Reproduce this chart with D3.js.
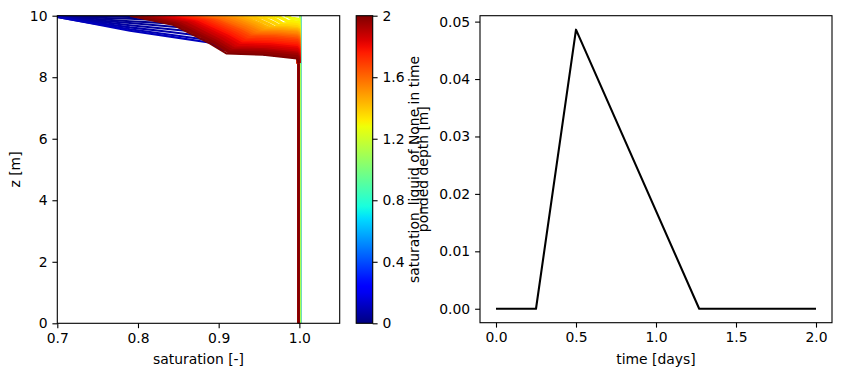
<!DOCTYPE html>
<html>
<head>
<meta charset="utf-8">
<script src="https://d3js.org/d3.v7.min.js"></script>
<style>
  body { margin: 0; background: white; }
  svg text { font-family: "DejaVu Sans", sans-serif; font-size: 13.9px; fill: black; }
</style>
</head>
<body>
<div id="chart"></div>
<script>
// saturation profiles [saturation, z] at each output time [days]
var blueTimes = [0.000, 0.015, 0.030, 0.045, 0.060, 0.075, 0.090, 0.105];
var blueProfiles = [
    [[0.69,10.00],[0.74,9.98],[0.79,9.96],[0.84,9.94],[0.89,9.92],[0.905,8.90],[0.955,8.76],[0.997,8.64],[1.0,8.55],[1.0,0]],
    [[0.69,10.01],[0.74,9.94],[0.79,9.90],[0.84,9.84],[0.89,9.80],[0.905,8.90],[0.955,8.76],[0.997,8.64],[1.0,8.55],[1.0,0]],
    [[0.69,10.00],[0.74,9.91],[0.79,9.82],[0.84,9.75],[0.89,9.67],[0.905,8.90],[0.955,8.76],[0.997,8.64],[1.0,8.55],[1.0,0]],
    [[0.69,10.02],[0.74,9.87],[0.79,9.76],[0.84,9.65],[0.89,9.55],[0.905,8.90],[0.955,8.76],[0.997,8.64],[1.0,8.55],[1.0,0]],
    [[0.69,10.00],[0.74,9.84],[0.79,9.69],[0.84,9.56],[0.89,9.43],[0.905,8.90],[0.955,8.76],[0.997,8.64],[1.0,8.55],[1.0,0]],
    [[0.69,10.02],[0.74,9.80],[0.79,9.62],[0.84,9.47],[0.89,9.31],[0.905,8.90],[0.955,8.76],[0.997,8.64],[1.0,8.55],[1.0,0]],
    [[0.69,10.00],[0.74,9.77],[0.79,9.56],[0.84,9.38],[0.89,9.20],[0.905,8.90],[0.955,8.76],[0.997,8.64],[1.0,8.55],[1.0,0]],
    [[0.69,10.01],[0.74,9.76],[0.79,9.51],[0.84,9.32],[0.89,9.12],[0.905,8.90],[0.955,8.76],[0.997,8.64],[1.0,8.55],[1.0,0]]
];
var wetTimes = [0.27, 0.40, 0.55, 0.70, 0.85, 1.00, 1.10];
var wetProfiles = [
    [[1.001,10],[1.001,0]], [[1.001,10],[1.001,0]], [[1.001,10],[1.001,0]],
    [[1.001,10],[1.001,0]], [[1.001,10],[1.001,0]], [[1.001,10],[1.001,0]],
    [[1.001,10],[1.001,0]]
];
var dryTimes = [1.28, 1.31, 1.34, 1.37, 1.41, 1.44, 1.47, 1.50, 1.53, 1.56, 1.59, 1.62,
                1.66, 1.69, 1.72, 1.75, 1.78, 1.81, 1.84, 1.87, 1.91, 1.94, 1.97, 2.00];
var dryProfiles = [
    [[0.982,10],[0.986,9.98],[0.989,9.93],[0.991,9.90],[0.994,9.90],[0.997,9.89],[0.999,9.88],[0.999,0]],
    [[0.968,10],[0.975,9.96],[0.982,9.87],[0.985,9.82],[0.991,9.81],[0.997,9.79],[0.999,9.78],[0.999,0]],
    [[0.955,10],[0.966,9.94],[0.975,9.81],[0.979,9.74],[0.989,9.73],[0.997,9.71],[0.999,9.69],[0.999,0]],
    [[0.942,10],[0.956,9.92],[0.968,9.77],[0.974,9.68],[0.986,9.67],[0.997,9.64],[0.999,9.61],[0.999,0]],
    [[0.928,10],[0.946,9.91],[0.961,9.73],[0.968,9.63],[0.983,9.62],[0.997,9.58],[0.999,9.55],[0.999,0]],
    [[0.915,10],[0.936,9.90],[0.954,9.70],[0.963,9.59],[0.980,9.58],[0.997,9.54],[0.999,9.51],[0.999,0]],
    [[0.907,10],[0.930,9.90],[0.950,9.68],[0.959,9.56],[0.979,9.54],[0.997,9.50],[0.999,9.46],[0.999,0]],
    [[0.899,10],[0.924,9.89],[0.946,9.65],[0.956,9.52],[0.977,9.50],[0.997,9.46],[0.999,9.42],[0.999,0]],
    [[0.892,10],[0.919,9.88],[0.942,9.62],[0.953,9.48],[0.976,9.47],[0.997,9.42],[0.999,9.37],[0.999,0]],
    [[0.884,10],[0.913,9.87],[0.938,9.60],[0.950,9.45],[0.974,9.43],[0.997,9.37],[0.999,9.33],[0.999,0]],
    [[0.876,10],[0.907,9.86],[0.934,9.57],[0.946,9.41],[0.972,9.39],[0.997,9.33],[0.999,9.28],[0.999,0]],
    [[0.868,10],[0.901,9.85],[0.930,9.54],[0.943,9.37],[0.971,9.35],[0.997,9.29],[0.999,9.24],[0.999,0]],
    [[0.862,10],[0.897,9.84],[0.927,9.51],[0.940,9.33],[0.970,9.31],[0.997,9.24],[0.999,9.18],[0.999,0]],
    [[0.856,10],[0.892,9.83],[0.923,9.48],[0.938,9.28],[0.968,9.26],[0.997,9.19],[0.999,9.12],[0.999,0]],
    [[0.850,10],[0.888,9.82],[0.920,9.44],[0.935,9.23],[0.967,9.21],[0.997,9.13],[0.999,9.06],[0.999,0]],
    [[0.844,10],[0.883,9.81],[0.917,9.40],[0.933,9.18],[0.966,9.15],[0.997,9.07],[0.999,9.00],[0.999,0]],
    [[0.838,10],[0.879,9.79],[0.914,9.36],[0.930,9.13],[0.965,9.10],[0.997,9.02],[0.999,8.94],[0.999,0]],
    [[0.832,10],[0.874,9.78],[0.911,9.33],[0.928,9.08],[0.964,9.05],[0.997,8.96],[0.999,8.88],[0.999,0]],
    [[0.825,10],[0.869,9.77],[0.907,9.29],[0.925,9.03],[0.962,8.99],[0.997,8.90],[0.999,8.81],[0.999,0]],
    [[0.818,10],[0.864,9.76],[0.904,9.25],[0.922,8.97],[0.961,8.94],[0.997,8.84],[0.999,8.75],[0.999,0]],
    [[0.811,10],[0.859,9.75],[0.900,9.21],[0.919,8.92],[0.959,8.89],[0.997,8.78],[0.999,8.69],[0.999,0]],
    [[0.804,10],[0.853,9.73],[0.896,9.18],[0.916,8.87],[0.958,8.84],[0.997,8.73],[0.999,8.63],[0.999,0]],
    [[0.797,10],[0.848,9.72],[0.893,9.14],[0.913,8.82],[0.956,8.78],[0.997,8.67],[0.999,8.56],[0.999,0]],
    [[0.790,10],[0.843,9.71],[0.889,9.10],[0.910,8.77],[0.955,8.73],[0.997,8.61],[0.999,8.50],[0.999,0]]
];

// ponded depth [m] vs time [days]
var pondTime = [0, 0.25, 0.5, 1.27, 2.0];
var pondDepth = [0, 0, 0.0486, 0, 0];

var satTicks = [0.7, 0.8, 0.9, 1.0];
var zTicks = [0, 2, 4, 6, 8, 10];
var cbarTicks = [0, 0.4, 0.8, 1.2, 1.6, 2];
var timeTicks = [0, 0.5, 1.0, 1.5, 2.0];
var depthTicks = [0, 0.01, 0.02, 0.03, 0.04, 0.05];

// matplotlib "jet"
var jetR = d3.scaleLinear().domain([0, 0.35, 0.66, 0.89, 1]).range([0, 0, 1, 1, 0.5]).clamp(true);
var jetG = d3.scaleLinear().domain([0, 0.125, 0.375, 0.64, 0.91, 1]).range([0, 0, 1, 1, 0, 0]).clamp(true);
var jetB = d3.scaleLinear().domain([0, 0.11, 0.34, 0.65, 1]).range([0.5, 1, 1, 0, 0]).clamp(true);
function jet(v) { return d3.rgb(jetR(v) * 255, jetG(v) * 255, jetB(v) * 255).toString(); }

var W = 842, H = 376;
var svg = d3.select("#chart").append("svg").attr("width", W).attr("height", H);
var defs = svg.append("defs");

var tick = 4.9, pad = 4.9, spine = 1.1, lw = 2.08;

// ---- left: profiles
var L = { left: 57.3, right: 339.7, top: 15.7, bottom: 323.3 };
var xs = d3.scaleLinear().domain([0.7, 1.05]).range([L.left, L.right]);
var zs = d3.scaleLinear().domain([0, 10]).range([L.bottom, L.top]);
var tnorm = d3.scaleLinear().domain([0, 2]).range([0, 1]);
var zSplit = 8.45; // below this every profile is the saturated column

function clip(id, y0, y1) {
    defs.append("clipPath").attr("id", id).append("rect")
        .attr("x", L.left).attr("y", y0).attr("width", L.right - L.left).attr("height", y1 - y0);
}
clip("clipTop", L.top, zs(zSplit));
clip("clipLow", zs(zSplit), L.bottom);

var curves = [];
blueTimes.forEach((t, i) => curves.push({ t: t, pts: blueProfiles[i], dry: false }));
wetTimes.forEach((t, i) => curves.push({ t: t, pts: wetProfiles[i], dry: false }));
dryTimes.forEach((t, i) => curves.push({ t: t, pts: dryProfiles[i], dry: i < dryTimes.length - 1 }));

var prof = d3.line().x(d => xs(d[0])).y(d => zs(d[1]));
function drawCurves(clipId, wide) {
    svg.append("g").attr("clip-path", `url(#${clipId})`)
        .selectAll("path").data(curves).enter().append("path")
        .attr("d", d => prof(d.pts))
        .attr("fill", "none")
        .attr("stroke", d => jet(tnorm(d.t)))
        // drying curves a bit wider near the surface so the fan fills like the dense original
        .attr("stroke-width", d => (wide && d.dry) ? 3.4 : lw)
        .attr("stroke-linejoin", "round");
}
drawCurves("clipTop", true);
drawCurves("clipLow", false);

function styleAxis(g) {
    g.select(".domain").remove();
    g.selectAll(".tick line").attr("stroke-width", spine);
    g.selectAll("text").attr("font-size", null).attr("font-family", null);
}

svg.append("g").attr("transform", `translate(0,${L.bottom})`)
    .call(d3.axisBottom(xs).tickValues(satTicks).tickFormat(d3.format(".1f")).tickSize(tick).tickPadding(pad))
    .call(styleAxis);
svg.append("g").attr("transform", `translate(${L.left},0)`)
    .call(d3.axisLeft(zs).tickValues(zTicks).tickFormat(d3.format("d")).tickSize(tick).tickPadding(pad))
    .call(styleAxis);
svg.append("rect").attr("x", L.left).attr("y", L.top)
    .attr("width", L.right - L.left).attr("height", L.bottom - L.top)
    .attr("fill", "none").attr("stroke", "black").attr("stroke-width", spine);

svg.append("text").attr("x", (L.left + L.right) / 2).attr("y", 364)
    .attr("text-anchor", "middle").text("saturation [-]");
svg.append("text").attr("transform", `translate(19.5,${(L.top + L.bottom) / 2}) rotate(-90)`)
    .attr("text-anchor", "middle").text("z [m]");

// ---- colorbar
var C = { left: 356.2, right: 372.7, top: 15.7, bottom: 323.3 };
var cs = d3.scaleLinear().domain([0, 2]).range([C.bottom, C.top]);
var grad = defs.append("linearGradient").attr("id", "jetGrad")
    .attr("x1", 0).attr("y1", 1).attr("x2", 0).attr("y2", 0);
d3.range(0, 1.0001, 0.02).forEach(v => {
    grad.append("stop").attr("offset", v).attr("stop-color", jet(v));
});
svg.append("rect").attr("x", C.left).attr("y", C.top)
    .attr("width", C.right - C.left).attr("height", C.bottom - C.top)
    .attr("fill", "url(#jetGrad)");
svg.append("g").attr("transform", `translate(${C.right},0)`)
    .call(d3.axisRight(cs).tickValues(cbarTicks).tickFormat(d3.format("~g")).tickSize(tick).tickPadding(pad))
    .call(styleAxis);
svg.append("rect").attr("x", C.left).attr("y", C.top)
    .attr("width", C.right - C.left).attr("height", C.bottom - C.top)
    .attr("fill", "none").attr("stroke", "black").attr("stroke-width", spine);
svg.append("text").attr("transform", `translate(419,${(C.top + C.bottom) / 2}) rotate(-90)`)
    .attr("text-anchor", "middle").text("saturation_liquid of None in time");

// ---- right: ponded depth
var R = { left: 480, right: 832, top: 15.7, bottom: 322.7 };
var ext = d3.extent(pondDepth), span = ext[1] - ext[0];
var xt = d3.scaleLinear().domain([-0.1, 2.1]).range([R.left, R.right]);
var yd = d3.scaleLinear().domain([ext[0] - 0.05 * span, ext[1] + 0.05 * span]).range([R.bottom, R.top]);

var pond = pondTime.map((t, i) => [t, pondDepth[i]]);
svg.append("path").datum(pond)
    .attr("d", d3.line().x(d => xt(d[0])).y(d => yd(d[1])))
    .attr("fill", "none").attr("stroke", "black").attr("stroke-width", lw)
    .attr("stroke-linejoin", "round");

svg.append("g").attr("transform", `translate(0,${R.bottom})`)
    .call(d3.axisBottom(xt).tickValues(timeTicks).tickFormat(d3.format(".1f")).tickSize(tick).tickPadding(pad))
    .call(styleAxis);
svg.append("g").attr("transform", `translate(${R.left},0)`)
    .call(d3.axisLeft(yd).tickValues(depthTicks).tickFormat(d3.format(".2f")).tickSize(tick).tickPadding(pad))
    .call(styleAxis);
svg.append("rect").attr("x", R.left).attr("y", R.top)
    .attr("width", R.right - R.left).attr("height", R.bottom - R.top)
    .attr("fill", "none").attr("stroke", "black").attr("stroke-width", spine);

svg.append("text").attr("x", (R.left + R.right) / 2).attr("y", 364)
    .attr("text-anchor", "middle").text("time [days]");
svg.append("text").attr("transform", `translate(427.5,${(R.top + R.bottom) / 2}) rotate(-90)`)
    .attr("text-anchor", "middle").text("ponded depth [m]");
</script>
</body>
</html>
